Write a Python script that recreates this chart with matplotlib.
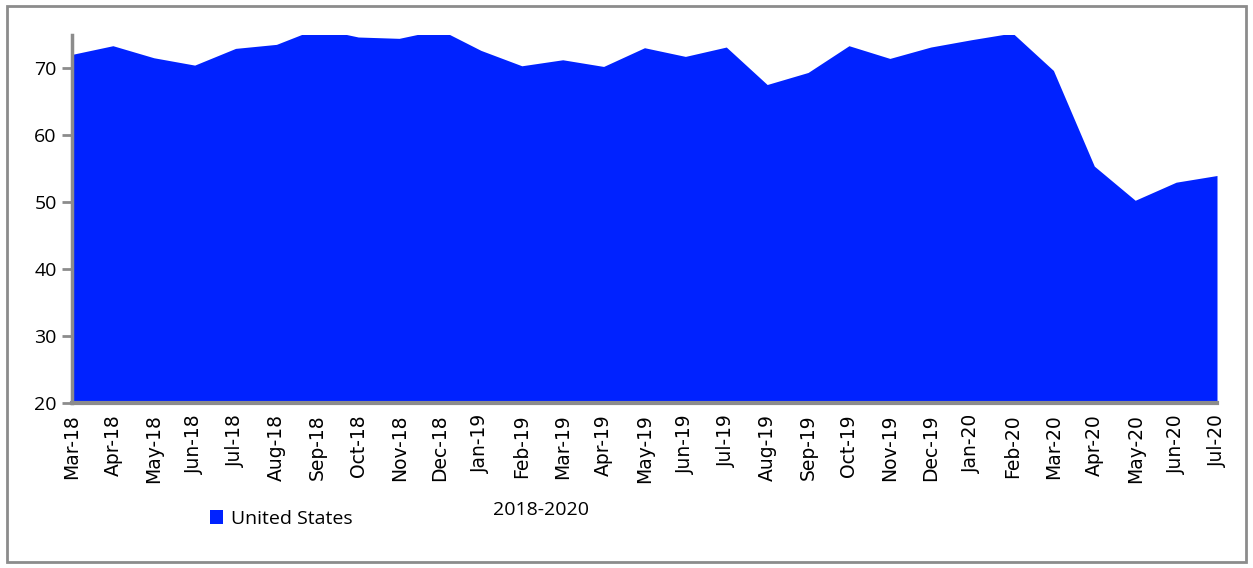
import numpy as np
import matplotlib.pyplot as plt
from matplotlib.patches import Rectangle, Patch

months = ["Mar-18", "Apr-18", "May-18", "Jun-18", "Jul-18", "Aug-18", "Sep-18", "Oct-18",
          "Nov-18", "Dec-18", "Jan-19", "Feb-19", "Mar-19", "Apr-19", "May-19", "Jun-19",
          "Jul-19", "Aug-19", "Sep-19", "Oct-19", "Nov-19", "Dec-19", "Jan-20", "Feb-20",
          "Mar-20", "Apr-20", "May-20", "Jun-20", "Jul-20"]
us_values = [72.1, 73.4, 71.6, 70.5, 73.0, 73.6, 76.0, 74.7,
             74.5, 75.8, 72.7, 70.4, 71.3, 70.3, 73.1, 71.8,
             73.2, 67.6, 69.4, 73.4, 71.5, 73.2, 74.3, 75.3,
             69.7, 55.4, 50.3, 53.0, 54.0]

blue = "#0022FF"
grey = "#8c8c8c"

fig = plt.figure(figsize=(12.53, 5.68), dpi=100)
ax = fig.add_axes([72 / 1253, 1 - 403 / 568, (1217 - 72) / 1253, (403 - 35) / 568])

x = np.arange(len(months))
ax.fill_between(x, 20, us_values, color=blue, linewidth=0)

ax.set_xlim(0, len(months) - 1)
ax.set_ylim(20, 75)
ax.set_yticks([20, 30, 40, 50, 60, 70])
ax.set_xticks(x)
ax.set_xticklabels(months, rotation=90, fontsize=13.5, family="DejaVu Sans")
ax.tick_params(axis="x", length=0, pad=8)
ax.tick_params(axis="y", length=7, width=2, color=grey, labelsize=14, pad=4)
for lab in ax.get_yticklabels():
    lab.set_family("Open Sans")

for s in ["top", "right"]:
    ax.spines[s].set_visible(False)
ax.spines["left"].set_color(grey)
ax.spines["left"].set_linewidth(2.5)
ax.spines["bottom"].set_color(grey)
ax.spines["bottom"].set_linewidth(3)

fig.text(541 / 1253, 1 - 510 / 568, "2018-2020", ha="center", va="center",
         fontsize=14, family="Open Sans")

fig.legend(handles=[Patch(facecolor=blue, label="United States")],
           loc="center left", bbox_to_anchor=(192 / 1253, 1 - 519 / 568),
           frameon=False, handlelength=0.7, handleheight=0.7,
           handletextpad=0.4, prop={"family": "Open Sans", "size": 14})

fig.patches.append(Rectangle((7 / 1253, 6 / 568), 1239 / 1253, 556 / 568,
                             transform=fig.transFigure, fill=False,
                             edgecolor=grey, linewidth=2))

fig.savefig("out.png", dpi=100)
